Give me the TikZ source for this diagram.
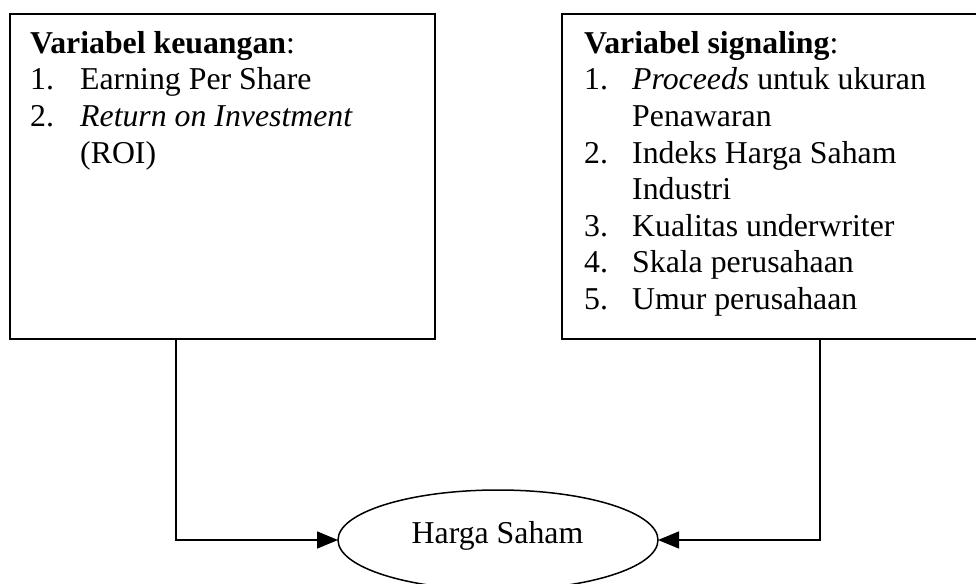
\documentclass[tikz,border=0pt]{standalone}
\usepackage{fontspec}
\setmainfont{Liberation Serif}
\usetikzlibrary{arrows.meta,shapes.geometric}
\begin{document}
\begin{tikzpicture}[x=1pt,y=-1pt,
  box/.style={draw, line width=1.5pt, rectangle, inner sep=0pt, outer sep=0pt},
  lbl/.style={anchor=north west, align=left, inner sep=0pt, font=\fontsize{31.8}{36.6}\selectfont},
  conn/.style={line width=1.5pt, -{Triangle[length=21pt,width=17pt]}},
  oval/.style={draw, ellipse, line width=1.5pt, inner sep=0pt, outer sep=0pt, minimum width=320pt, minimum height=100pt}
  ]
\useasboundingbox (0,0) rectangle (976,583);
\clip (0,0) rectangle (976,583);
\node[box, minimum width=425pt, minimum height=325pt] (lbox) at (222.5,176.5) {};
\node[box, minimum width=428pt, minimum height=325pt] (rbox) at (776,176.5) {};
\node[lbl] (ltext) at (30,31) {\textbf{Variabel keuangan}:\\
\makebox[50pt][l]{1.}Earning Per Share\\
\makebox[50pt][l]{2.}\textit{Return on Investment}\\
\hspace*{50pt}(ROI)};
\node[lbl] (rtext) at (584,31) {\textbf{Variabel signaling}:\\
\makebox[48pt][l]{1.}\textit{Proceeds} untuk ukuran\\
\hspace*{48pt}Penawaran\\
\makebox[48pt][l]{2.}Indeks Harga Saham\\
\hspace*{48pt}Industri\\
\makebox[48pt][l]{3.}Kualitas underwriter\\
\makebox[48pt][l]{4.}Skala perusahaan\\
\makebox[48pt][l]{5.}Umur perusahaan};
\node[oval] (ell) at (498,540) {};
\node[anchor=base, inner sep=0pt, font=\fontsize{31.8}{36.6}\selectfont] (htext) at (497.5,543) {Harga Saham};
\coordinate (lc) at (176,339);
\coordinate (rc) at (820,339);
\draw[conn] (lc) |- (ell.west);
\draw[conn] (rc) |- (ell.east);
\end{tikzpicture}
\end{document}
